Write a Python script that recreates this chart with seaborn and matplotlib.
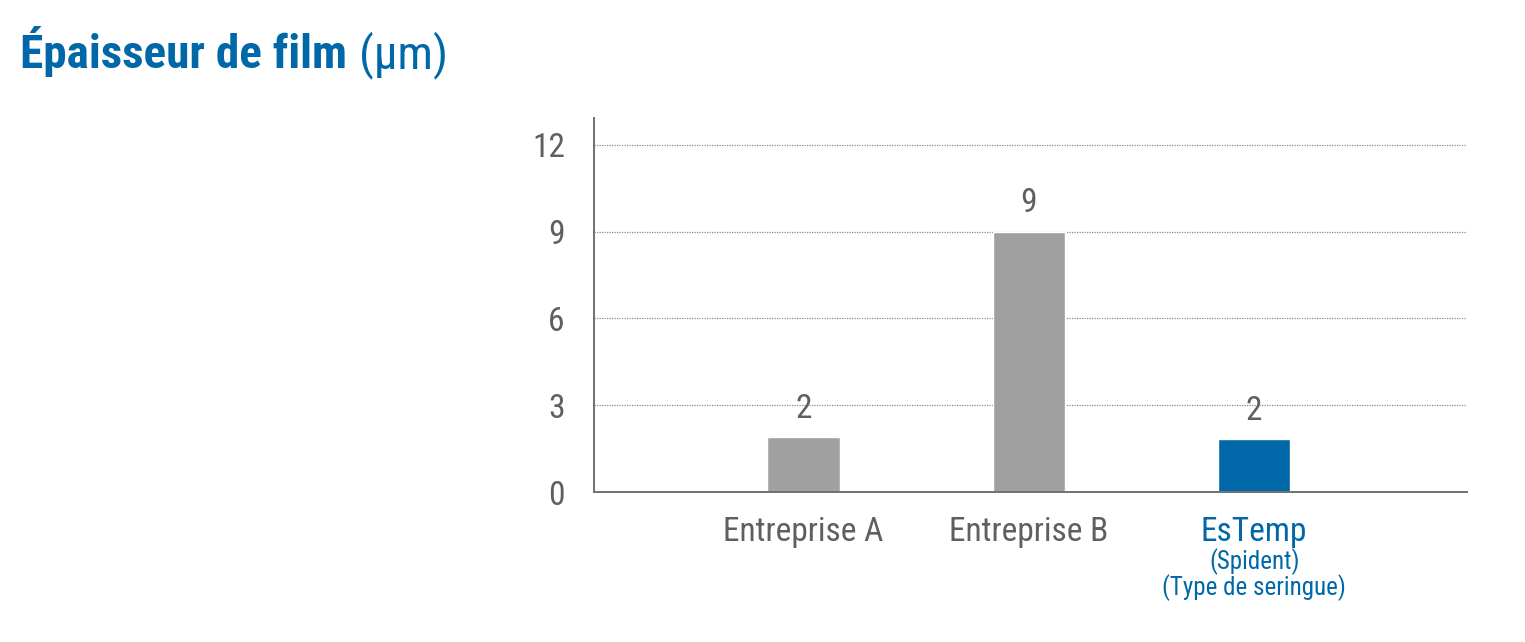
import matplotlib
matplotlib.use("Agg")
import matplotlib.pyplot as plt
import matplotlib.font_manager as fm
import seaborn as sns
import pandas as pd

# chart data
companies = ["Entreprise A", "Entreprise B", "EsTemp"]
thickness = [1.9, 9.0, 1.83]
value_labels = ["2", "9", "2"]
y_ticks = [0, 3, 6, 9, 12]

grey_bar = "#A0A0A0"
blue = "#0068A8"
text_grey = "#5F5F5F"

# look for a narrow face, the original uses a condensed font
narrow = [f for f in fm.fontManager.ttflist
          if "Condensed" in f.name or "Narrow" in f.name
          or f.stretch in ("condensed", "semi-condensed", 600, 700)]
narrow_names = sorted({f.name for f in narrow})
font = "DejaVu Sans"
stretch = "normal"
for pref in ["Roboto Condensed", "Liberation Sans Narrow", "Open Sans Condensed",
             "Noto Sans Condensed", "DejaVu Sans Condensed"]:
    if pref in narrow_names:
        font = pref
        break
else:
    if any(f.name == "DejaVu Sans" for f in narrow):
        stretch = "condensed"
    elif narrow_names:
        font = narrow_names[0]

sns.set_theme(style="white")
plt.rcParams["font.family"] = [font, "DejaVu Sans"]
plt.rcParams["font.stretch"] = stretch

df = pd.DataFrame({"company": companies, "thickness": thickness})

fig = plt.figure(figsize=(15.25, 6.42), dpi=100)
ax = fig.add_axes([0.3895, 0.2336, 0.5725, 0.5826])

sns.barplot(data=df, x="company", y="thickness", hue="company",
            palette=[grey_bar, grey_bar, blue], width=0.32,
            legend=False, ax=ax, saturation=1)

ax.set_xlim(-0.93, 2.945)
ax.set_ylim(0, 12.93)
ax.set_yticks(y_ticks)
ax.set_yticklabels([str(t) for t in y_ticks], fontsize=24, color=text_grey)
ax.tick_params(axis="y", length=0, pad=21)
ax.tick_params(axis="x", length=0, pad=17)
ax.set_xlabel("")
ax.set_ylabel("")

ax.grid(axis="y", linestyle=(0, (1, 1)), color="#8A8A8A", linewidth=0.9)
ax.set_axisbelow(True)
for side in ["top", "right"]:
    ax.spines[side].set_visible(False)
for side in ["left", "bottom"]:
    ax.spines[side].set_color("#707070")
    ax.spines[side].set_linewidth(1.4)

ax.set_xticks(range(len(companies)))
ax.set_xticklabels(companies, fontsize=24)
for lbl, col in zip(ax.get_xticklabels(), [text_grey, text_grey, blue]):
    lbl.set_color(col)

# sub caption under EsTemp
ax.text(2, -0.15, "(Spident)\n(Type de seringue)", transform=ax.get_xaxis_transform(),
        ha="center", va="top", fontsize=18, color=blue, linespacing=0.98)

for bars in ax.containers:
    idx = int(round(bars[0].get_x() + bars[0].get_width() / 2))
    ax.bar_label(bars, labels=[value_labels[idx]], padding=9,
                 fontsize=24, color=text_grey)

# title: bold part then the unit in regular weight
t1 = fig.text(0.013, 0.894, "Épaisseur de film", fontsize=34, fontweight="bold",
              color=blue, ha="left", va="baseline")
renderer = fig.canvas.get_renderer()
bb = t1.get_window_extent(renderer=renderer)
x_end = bb.x1 / fig.bbox.width
fig.text(x_end + 0.008, 0.894, "(µm)", fontsize=34, color=blue,
         ha="left", va="baseline")

fig.savefig("out.png", dpi=100, facecolor="white")
